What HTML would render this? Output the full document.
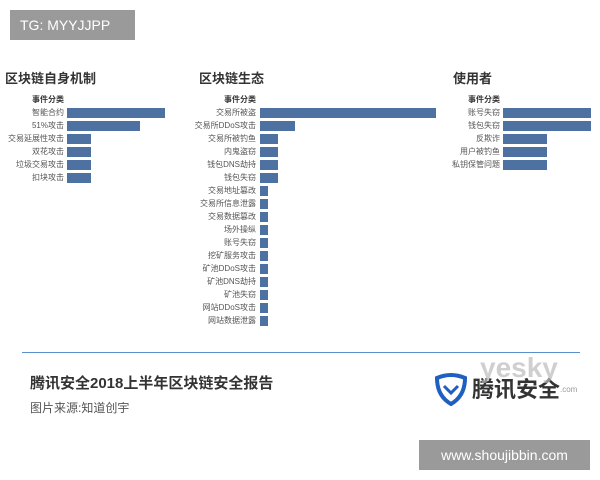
<!DOCTYPE html><html><head><meta charset="utf-8"><style>
body{margin:0;width:600px;height:480px;background:#fff;position:relative;overflow:hidden;font-family:"Liberation Sans","Noto Sans CJK SC",sans-serif}
.a{position:absolute}
.t{font-size:13px;font-weight:bold;color:#333}
.l{position:absolute;font-size:8px;color:#555;text-align:right;white-space:nowrap;line-height:9px}
.b{position:absolute;height:10px;background:#4d71a1}
</style></head><body>
<div class="a" style="left:10px;top:10px;width:125px;height:30px;background:#9a9a9a;color:#fff;font-size:14px;line-height:30px;text-indent:10px">TG: MYYJJPP</div>
<div class="a t" style="left:5px;top:68px">区块链自身机制</div>
<div class="a t" style="left:199px;top:68px">区块链生态</div>
<div class="a t" style="left:453px;top:68px">使用者</div>
<div id="c"></div>
<div class="a" style="left:22px;top:352px;width:558px;height:1px;background:#5b8fd0"></div>
<div class="a" style="left:30px;top:372px;font-size:15px;font-weight:bold;color:#333">腾讯安全2018上半年区块链安全报告</div>
<div class="a" style="left:30px;top:399px;font-size:12px;color:#555">图片来源:知道创宇</div>
<svg class="a" style="left:434px;top:372px" width="34" height="34" viewBox="0 0 34 34"><path d="M3 6 Q17 0 31 6 Q31 24 17 32 Q3 24 3 6Z" fill="none" stroke="#1f5fbf" stroke-width="4"/><path d="M10 14 L17 21 L24 14" fill="none" stroke="#1f5fbf" stroke-width="3"/></svg>
<div class="a" style="left:472px;top:372px;font-size:22px;font-weight:bold;color:#333">腾讯安全</div>
<div class="a" style="left:480px;top:352px;font-size:28px;font-weight:bold;color:#bbb;opacity:.7">yesky</div>
<div class="a" style="left:560px;top:385px;font-size:8px;color:#999">.com</div>
<div class="a" style="left:419px;top:440px;width:171px;height:30px;background:#9a9a9a;color:#fff;font-size:14px;line-height:30px;text-align:center">www.shoujibbin.com</div>
<script>
function P(lx,bx,labels,w){var h='';labels.forEach(function(s,i){var y=95+i*13;h+='<div class="l" style="right:'+(600-lx)+'px;top:'+y+'px;'+(i==0?'font-weight:bold;color:#333':'')+'">'+s+'</div>';if(i>0)h+='<div class="b" style="left:'+bx+'px;top:'+(y-0.5)+'px;width:'+w[i-1]+'px"></div>'});return h}
document.getElementById('c').innerHTML=
P(64,67,['事件分类','智能合约','51%攻击','交易延展性攻击','双花攻击','垃圾交易攻击','扣块攻击'],[98,73,24,24,24,24])+
P(256,260,['事件分类','交易所被盗','交易所DDoS攻击','交易所被钓鱼','内鬼盗窃','钱包DNS劫持','钱包失窃','交易地址篡改','交易所信息泄露','交易数据篡改','场外操纵','账号失窃','挖矿服务攻击','矿池DDoS攻击','矿池DNS劫持','矿池失窃','网站DDoS攻击','网站数据泄露'],[176,35,18,18,18,18,8,8,8,8,8,8,8,8,8,8,8])+
P(500,503,['事件分类','账号失窃','钱包失窃','反欺诈','用户被钓鱼','私钥保管问题'],[88,88,44,44,44]);
</script>
</body></html>
